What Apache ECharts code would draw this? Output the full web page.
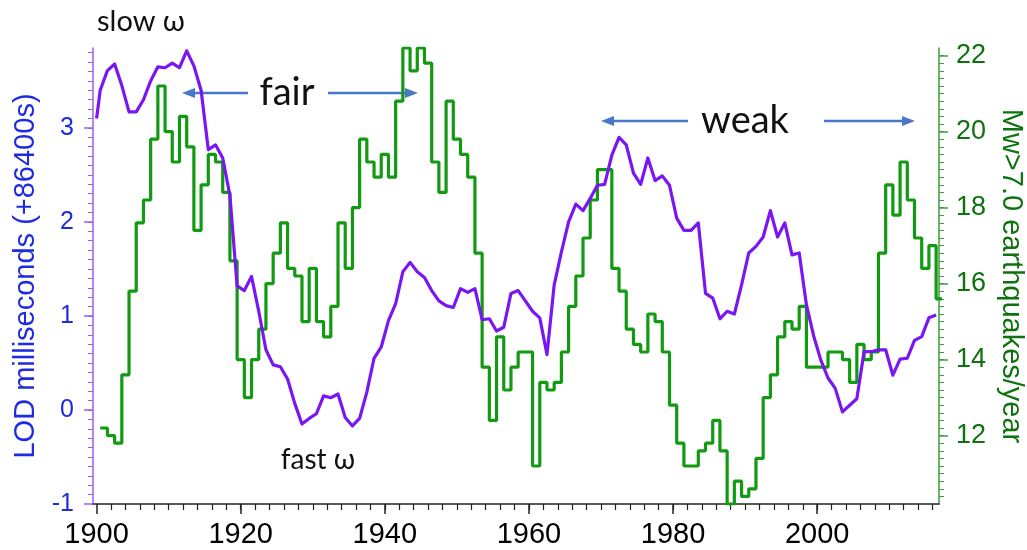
<!DOCTYPE html>
<html>
<head>
<meta charset="utf-8">
<script src="https://cdn.jsdelivr.net/npm/echarts@6/dist/echarts.min.js"></script>
<style>
  html, body { margin: 0; padding: 0; background: #fff; }
  #chart { width: 1027px; height: 550px; }
</style>
</head>
<body>
<div id="chart"></div>
<script>
// M>7 지진 횟수 (연도별, 그림에서 읽음)
var quakeFirstYear = 1901;
var quakeValues = [
  12.2, 12.0, 11.8, 13.6, 15.8, 17.6, 18.2, 19.8, 21.2, 20.0,   // 1901-1910
  19.2, 20.4, 19.6, 17.4, 18.6, 19.4, 19.2, 18.4, 16.6, 14.0,   // 1911-1920
  13.0, 14.0, 14.8, 16.0, 16.8, 17.6, 16.4, 16.2, 15.0, 16.4,   // 1921-1930
  15.0, 14.6, 15.4, 17.6, 16.4, 18.0, 19.8, 19.2, 18.8, 19.4,   // 1931-1940
  18.8, 20.8, 22.2, 21.6, 22.2, 21.8, 19.2, 18.4, 20.8, 19.8,   // 1941-1950
  19.4, 18.8, 16.8, 13.8, 12.4, 14.6, 13.2, 13.8, 14.2, 14.2,   // 1951-1960
  11.2, 13.4, 13.2, 13.4, 14.2, 15.4, 16.2, 17.2, 18.2, 19.0,   // 1961-1970
  19.0, 16.4, 15.8, 14.8, 14.4, 14.2, 15.2, 15.0, 14.2, 12.8,   // 1971-1980
  11.8, 11.2, 11.2, 11.6, 11.8, 12.4, 11.6, 10.2, 10.8, 10.4,   // 1981-1990
  10.6, 11.4, 13.0, 13.6, 14.6, 15.0, 14.8, 15.4, 13.8, 13.8,   // 1991-2000
  13.8, 14.2, 14.2, 14.0, 13.4, 14.4, 14.0, 14.2, 16.8, 18.6,   // 2001-2010
  17.8, 19.2, 18.2, 17.2, 16.4, 17.0, 15.6                      // 2011-2017
];

// LOD (ms), 첫 점 1900.0 다음부터 연중간값
var lodYears = [1900];
for (var y = 1900.5; y <= 2016.5; y++) lodYears.push(y);
var lodValues = [
  3.10, 3.40, 3.61, 3.68, 3.45, 3.17, 3.17, 3.30, 3.50, 3.65, 3.64,   // 1900 - 1909.5
  3.69, 3.64, 3.82, 3.66, 3.40, 2.77, 2.82, 2.68, 2.28, 1.32,         // 1910.5-1919.5
  1.27, 1.42, 1.05, 0.64, 0.48, 0.46, 0.33, 0.07, -0.15, -0.09,       // 1920.5-1929.5
  -0.04, 0.15, 0.13, 0.17, -0.08, -0.17, -0.09, 0.19, 0.55, 0.67,     // 1930.5-1939.5
  0.95, 1.13, 1.47, 1.57, 1.47, 1.41, 1.27, 1.16, 1.11, 1.09,         // 1940.5-1949.5
  1.29, 1.25, 1.29, 0.96, 0.97, 0.84, 0.88, 1.24, 1.27, 1.16,         // 1950.5-1959.5
  1.05, 0.98, 0.59, 1.33, 1.68, 2.00, 2.19, 2.12, 2.25, 2.39,         // 1960.5-1969.5
  2.40, 2.71, 2.90, 2.82, 2.52, 2.40, 2.68, 2.44, 2.49, 2.39,         // 1970.5-1979.5
  2.04, 1.91, 1.91, 1.99, 1.24, 1.19, 0.97, 1.05, 1.02, 1.33,         // 1980.5-1989.5
  1.67, 1.74, 1.84, 2.12, 1.84, 1.99, 1.65, 1.67, 1.12, 0.79,         // 1990.5-1999.5
  0.53, 0.34, 0.23, -0.02, 0.05, 0.12, 0.62, 0.62, 0.64, 0.64,        // 2000.5-2009.5
  0.37, 0.54, 0.55, 0.74, 0.78, 0.98, 1.01                            // 2010.5-2016.5
];

// 축 눈금
var yearTicks = [1900, 1920, 1940, 1960, 1980, 2000];
var lodTicks = [-1, 0, 1, 2, 3];
var quakeTicks = [12, 14, 16, 18, 20, 22];

var minorYearTicks = [];
for (var t = 1902; t <= 2016; t += 2) minorYearTicks.push(t);
var minorLodTicks = [];
for (var k = -9; k <= 38; k++) minorLodTicks.push(k / 10);
var minorQuakeTicks = [];
for (var q = 52; q <= 110; q++) minorQuakeTicks.push(q / 5);

// 계단선: 각 값은 해당 연도 ±0.5 구간
var quakeSteps = quakeValues.map(function (v, i) {
  return [quakeFirstYear + i - 0.5, v];
});
quakeSteps.push([quakeFirstYear + quakeValues.length - 0.5, quakeValues[quakeValues.length - 1]]);

var lodData = lodValues.map(function (v, i) { return [lodYears[i], v]; });

var PURPLE_AXIS = '#9B5CF6';
var GREEN_AXIS = '#3E9E3E';
var BLUE_TEXT = '#1F2BE0';
var GREEN_TEXT = '#0E720E';
var ARROW = '#4A78C8';
var LABEL_FONT = 'Liberation Sans';

function arrow(x1, x2, y, headAt) {
  var dir = headAt === 'left' ? 1 : -1;
  var tip = headAt === 'left' ? x1 : x2;
  return [
    {
      type: 'line',
      shape: { x1: headAt === 'left' ? x1 + 10 : x1, y1: y, x2: headAt === 'left' ? x2 : x2 - 10, y2: y },
      style: { stroke: ARROW, lineWidth: 2.5 }
    },
    {
      type: 'polygon',
      shape: { points: [[tip, y], [tip + dir * 13, y - 5], [tip + dir * 13, y + 5]] },
      style: { fill: ARROW }
    }
  ];
}

function note(text, x, y, size) {
  return {
    type: 'text',
    x: x, y: y,
    style: {
      text: text,
      font: size + 'px Lato, "DejaVu Sans", sans-serif',
      fill: '#111',
      align: 'center', verticalAlign: 'middle',
      textAlign: 'center', textVerticalAlign: 'middle'
    }
  };
}

var myChart = echarts.init(document.getElementById('chart'), null, { renderer: 'canvas' });

var yearLabel = function (v) { return String(v); };

var option = {
  animation: false,
  backgroundColor: '#fff',
  grid: { left: 93, right: 88, top: 48, bottom: 46, outerBoundsMode: 'none' },
  xAxis: [
    {
      type: 'value', min: 1899.5, max: 2016.9, position: 'bottom',
      axisLine: { show: true, onZero: false, lineStyle: { color: '#222', width: 1.5 } },
      axisTick: { show: true, customValues: yearTicks, length: 10, lineStyle: { color: '#222', width: 1.5 } },
      axisLabel: { customValues: yearTicks, formatter: yearLabel, fontSize: 29, color: '#000', margin: 16, fontFamily: LABEL_FONT },
      splitLine: { show: false }
    },
    {
      type: 'value', min: 1899.5, max: 2016.9, position: 'bottom',
      axisLine: { show: false, onZero: false },
      axisTick: { show: true, customValues: minorYearTicks, length: 6, lineStyle: { color: '#222', width: 1.2 } },
      axisLabel: { show: false },
      splitLine: { show: false }
    }
  ],
  yAxis: [
    {
      type: 'value', min: -1, max: 3.85, position: 'left',
      axisLine: { show: true, onZero: false, lineStyle: { color: PURPLE_AXIS, width: 1.5 } },
      axisTick: { show: true, customValues: lodTicks, length: 9, lineStyle: { color: PURPLE_AXIS, width: 1.5 } },
      axisLabel: { customValues: lodTicks, color: BLUE_TEXT, fontSize: 25, margin: 19, fontFamily: LABEL_FONT },
      splitLine: { show: false },
      name: 'LOD milliseconds (+86400s)',
      nameLocation: 'middle',
      nameGap: 50,
      nameTextStyle: { color: BLUE_TEXT, fontSize: 29, fontFamily: LABEL_FONT }
    },
    {
      type: 'value', min: 10.2, max: 22.2, position: 'right',
      axisLine: { show: true, onZero: false, lineStyle: { color: GREEN_AXIS, width: 1.5 } },
      axisTick: { show: true, customValues: quakeTicks, length: 9, lineStyle: { color: GREEN_AXIS, width: 1.5 } },
      axisLabel: { customValues: quakeTicks, color: GREEN_TEXT, fontSize: 27, margin: 17, fontFamily: LABEL_FONT },
      splitLine: { show: false },
      name: 'Mw>7.0 earthquakes/year',
      nameLocation: 'middle',
      nameRotate: -90,
      nameGap: 52,
      nameTextStyle: { color: GREEN_TEXT, fontSize: 29, fontFamily: LABEL_FONT }
    },
    {
      type: 'value', min: -1, max: 3.85, position: 'left',
      axisLine: { show: false, onZero: false },
      axisTick: { show: true, customValues: minorLodTicks, length: 5, lineStyle: { color: PURPLE_AXIS, width: 1 } },
      axisLabel: { show: false },
      splitLine: { show: false }
    },
    {
      type: 'value', min: 10.2, max: 22.2, position: 'right',
      axisLine: { show: false, onZero: false },
      axisTick: { show: true, customValues: minorQuakeTicks, length: 5, lineStyle: { color: GREEN_AXIS, width: 1 } },
      axisLabel: { show: false },
      splitLine: { show: false }
    }
  ],
  series: [
    {
      name: 'Mw>7.0 earthquakes/year',
      type: 'line',
      step: 'end',
      xAxisIndex: 0,
      yAxisIndex: 1,
      showSymbol: false,
      lineStyle: { color: '#139A13', width: 3.2 },
      data: quakeSteps
    },
    {
      name: 'LOD',
      type: 'line',
      xAxisIndex: 0,
      yAxisIndex: 0,
      showSymbol: false,
      lineStyle: { color: '#7A16F2', width: 3.2, join: 'round' },
      data: lodData
    }
  ],
  graphic: [
    note('slow \u03c9', 141, 22, 29),
    note('fast \u03c9', 318, 460, 28),
    note('fair', 287, 93, 38),
    note('weak', 745, 121, 38)
  ].concat(arrow(182, 248, 93, 'left'))
   .concat(arrow(328, 418, 93, 'right'))
   .concat(arrow(601, 688, 121, 'left'))
   .concat(arrow(824, 915, 121, 'right'))
};

if (option && typeof option === 'object') {
  myChart.setOption(option);
}
</script>
</body>
</html>
